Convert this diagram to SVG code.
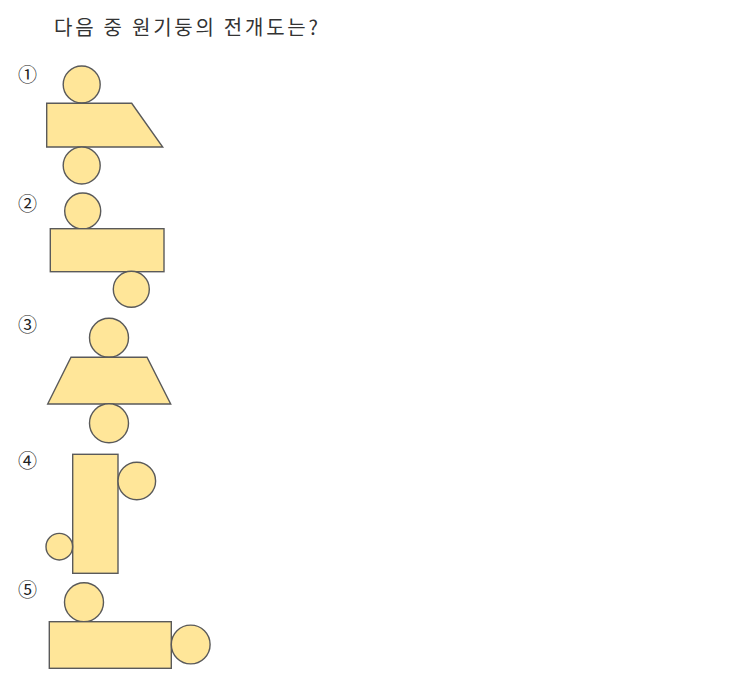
<svg xmlns="http://www.w3.org/2000/svg" width="739" height="693" viewBox="0 0 739 693">
<style>
.s{fill:#FFE699;stroke:#5a5a5a;stroke-width:1.4}
.t{font-family:"Noto Sans CJK KR","DejaVu Sans",sans-serif;fill:#333333}
.n{font-family:"Noto Sans CJK KR","DejaVu Sans",sans-serif;font-size:19px;fill:#222222;text-anchor:middle}
</style>
<rect width="739" height="693" fill="#ffffff"/>
<text class="t" x="54" y="35" font-size="20" textLength="264" lengthAdjust="spacing">다음 중 원기둥의 전개도는?</text>
<g id="opt1">
<text class="n" x="27.5" y="82">①</text>
<circle class="s" cx="81.7" cy="84.5" r="18.5"/>
<polygon class="s" points="46.7,103.3 131.7,103.3 162.7,147 46.7,147"/>
<circle class="s" cx="81.7" cy="165.5" r="18.5"/>
</g>
<g id="opt2">
<text class="n" x="27.5" y="211">②</text>
<circle class="s" cx="82.7" cy="211" r="18"/>
<rect class="s" x="50.3" y="228.7" width="113.7" height="43"/>
<circle class="s" cx="131.3" cy="289.3" r="18"/>
</g>
<g id="opt3">
<text class="n" x="27.5" y="332">③</text>
<circle class="s" cx="109" cy="337.8" r="19.5"/>
<polygon class="s" points="71,357.3 147,357.3 170.7,404 47.7,404"/>
<circle class="s" cx="109" cy="423.3" r="19.5"/>
</g>
<g id="opt4">
<text class="n" x="27.5" y="468">④</text>
<rect class="s" x="72.7" y="454.3" width="45.3" height="119"/>
<circle class="s" cx="136.8" cy="481" r="18.8"/>
<circle class="s" cx="59.3" cy="546.7" r="13.3"/>
</g>
<g id="opt5">
<text class="n" x="27.5" y="597">⑤</text>
<circle class="s" cx="84" cy="602.2" r="19.5"/>
<rect class="s" x="49.3" y="621.7" width="122" height="46.6"/>
<circle class="s" cx="190.7" cy="644.5" r="19.4"/>
</g>
<g id="connectors"></g>
</svg>
